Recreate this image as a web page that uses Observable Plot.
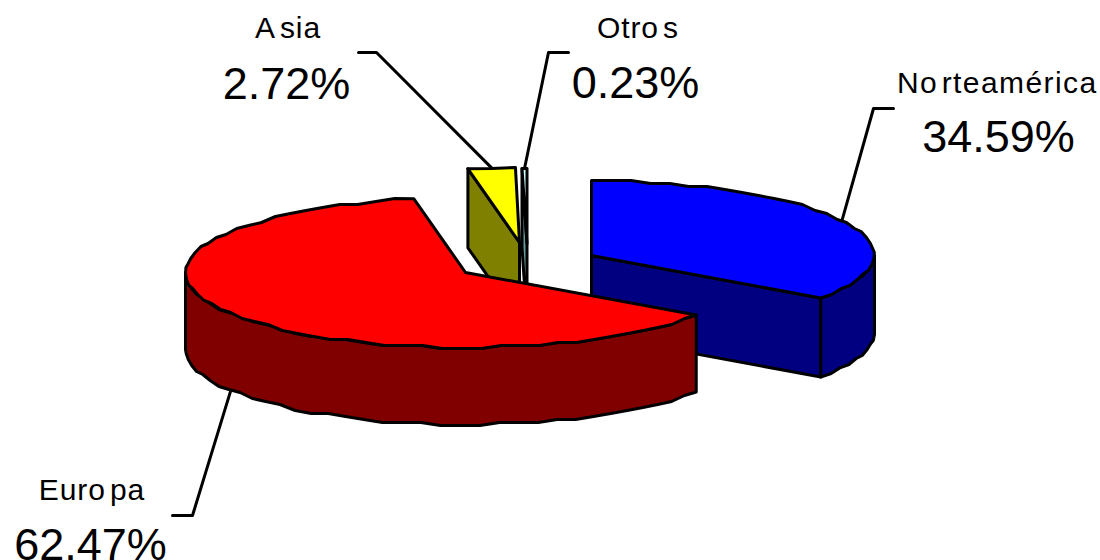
<!DOCTYPE html>
<html>
<head>
<meta charset="utf-8">
<script src="https://cdn.jsdelivr.net/npm/d3@7"></script>
<script src="https://cdn.jsdelivr.net/npm/@observablehq/plot@0.6"></script>
<style>
html,body{margin:0;padding:0;background:#fff;overflow:hidden}
svg{display:block}
</style>
</head>
<body>
<div id="chart"></div>
<script>
// --- data ---
const categories = ["Norteamérica", "Europa", "Asia", "Otros"];
const shares = [34.59, 62.47, 2.72, 0.23];
const topColors = ["#0000ff", "#ff0000", "#ffff00", "#ccffff"];
const sideColors = ["#000080", "#800000", "#808000", "#669999"];

// --- layout (exploded pie in pixel space) ---
const centerX = [591, 465, 519, 526.5];
const centerY = [255, 272, 242, 243];
const radiusX = [283, 280, 280, 345];
const taper = [0.03, 0, 0, 0];
const radiusY = 75;
const depths = [79, 77, 79, 79];
const elbowX = [873, 192, 376, 548];
const elbowY = [108, 515, 52, 52];
const tailX = [893, 172, 358, 568];
const labelX = [996, 91, 287, 637];
const labelY = [92, 499, 37, 37];
const valueX = [998, 90, 286, 635];
const valueY = [151, 559, 98, 97];
const gapAfter = [1, 3, 0, 3];   // wider gap the reference shows inside each label
const glyphGap = [1.4, 0.9, 0.9, 0.9];
const labelFont = 30, valueFont = 45;

const total = d3.sum(shares);
let acc = 0;
const slices = categories.map((name, i) => {
  const a0 = acc / total * 2 * Math.PI;
  acc += shares[i];
  const a1 = acc / total * 2 * Math.PI;
  return {i, name, a0, a1, mid: (a0 + a1) / 2, value: shares[i]};
});

const pt = (s, a) => {
  const c = Math.cos(a);
  const k = 1 - taper[s.i] * Math.max(0, -c);
  return {
    x: centerX[s.i] + radiusX[s.i] * k * Math.sin(a),
    y: centerY[s.i] - radiusY * c,
    i: s.i
  };
};
// rim sampled coarsely and snapped to a rough grid like the original's stepped outline
function rim(s, a0, a1) {
  const n = Math.max(1, Math.round((a1 - a0) / (4 * Math.PI / 180)));
  return d3.range(n + 1).map(k => {
    const p = pt(s, a0 + (a1 - a0) * k / n);
    return (k === 0 || k === n) ? p : {x: p.x, y: Math.round(p.y / 3) * 3, i: s.i};
  });
}
const down = p => ({x: p.x, y: p.y + depths[p.i], i: p.i});
const apex = s => ({x: centerX[s.i], y: centerY[s.i], i: s.i});
const closed = pts => [...pts, pts[0]];

const faces = [];
const [na, eu, as, ot] = slices;
// Norteamérica: cut face, outer wall, top
faces.push({color: sideColors[0], pts: [apex(na), pt(na, na.a1), down(pt(na, na.a1)), down(apex(na))]});
{
  const r = rim(na, Math.PI / 2, na.a1);
  faces.push({color: sideColors[0], pts: [...r, ...r.map(down).reverse()]});
}
faces.push({color: topColors[0], pts: [apex(na), ...rim(na, na.a0, na.a1)]});
// Asia and Otros: cut face, top
for (const s of [as, ot]) {
  faces.push({color: sideColors[s.i], pts: [pt(s, s.a0), apex(s), down(apex(s)), down(pt(s, s.a0))]});
  faces.push({color: topColors[s.i], pts: [apex(s), ...rim(s, s.a0, s.a1)]});
}
// Europa: outer wall, top
{
  const r = rim(eu, eu.a0, 3 * Math.PI / 2);
  faces.push({color: sideColors[1], pts: [...r, ...r.map(down).reverse()]});
}
faces.push({color: topColors[1], pts: [apex(eu), ...rim(eu, eu.a0, eu.a1)]});

// leader lines start at each slice's mid-angle on the rim
const leaders = slices.map(s => {
  const p = pt(s, s.mid);
  const start = s.i === 1 ? down(p) : p;
  return [{x: tailX[s.i], y: elbowY[s.i]}, {x: elbowX[s.i], y: elbowY[s.i]}, start];
});

const fontFamily = "Liberation Sans, Arial, sans-serif";
const chart = Plot.plot({
  width: 1100,
  height: 560,
  margin: 0,
  x: {domain: [0, 1100], range: [0, 1100], axis: null},
  y: {domain: [0, 560], range: [0, 560], axis: null},
  style: {background: "#fff"},
  marks: [
    ...leaders.map(l => Plot.line(l, {x: "x", y: "y", stroke: "#000", strokeWidth: 3})),
    ...faces.map(f => Plot.line(closed(f.pts), {
      x: "x", y: "y", fill: f.color, stroke: "#000", strokeWidth: 3, strokeLinejoin: "round"
    })),
    Plot.text(slices, {
      x: d => labelX[d.i], y: d => labelY[d.i], text: "name",
      fontSize: labelFont, fontFamily, fill: "#000", textAnchor: "middle",
      lineAnchor: "bottom", className: "slice-label"
    }),
    Plot.text(slices, {
      x: d => valueX[d.i], y: d => valueY[d.i], text: d => d.value.toFixed(2) + "%",
      fontSize: valueFont, fontFamily, fill: "#000", textAnchor: "middle",
      lineAnchor: "bottom"
    })
  ]
});
// spread the label glyphs the way the reference does
chart.querySelectorAll(".slice-label text").forEach(t => {
  const i = categories.indexOf(t.textContent);
  t.setAttribute("dx", Array.from(t.textContent, (c, k) => k === 0 ? 0 : (k === gapAfter[i] + 1 ? 5 : glyphGap[i])).join(" "));
});
document.querySelector("#chart").append(chart);
</script>
</body>
</html>
